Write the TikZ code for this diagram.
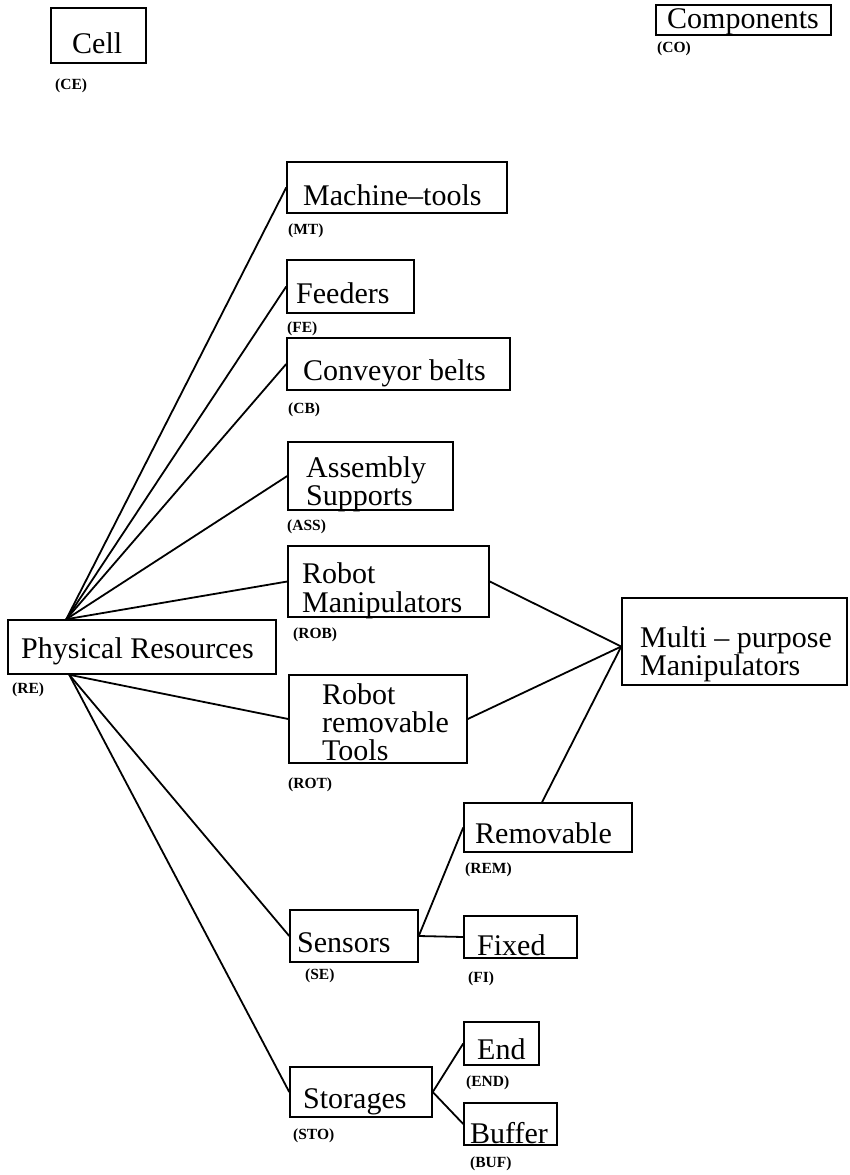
\documentclass[tikz,border=0pt]{standalone}
\usepackage{fontspec}
\setmainfont{Liberation Serif}
\begin{document}
\begin{tikzpicture}[x=1pt,y=-1pt,
  box/.style={draw, line width=1.5pt, inner sep=0pt, rectangle},
  txt/.style={inner sep=0pt, anchor=base west, align=left, font=\fontsize{30}{28}\selectfont},
  tag/.style={inner sep=0pt, anchor=base west, font=\fontsize{15.5}{15}\selectfont\bfseries},
  link/.style={line width=1.8pt}]
\useasboundingbox (0,0) rectangle (849,1175);

% stand-alone classes
\node[box, minimum width=95pt, minimum height=55pt] (ce) at (98.5,35.5) {};
\node[txt] (cet) at (72,53) {Cell};
\node[tag] (cel) at (55,89) {(CE)};

\node[box, minimum width=175pt, minimum height=30pt] (co) at (743.5,20) {};
\node[txt] (cot) at (667,28) {Components};
\node[tag] (col) at (657,52) {(CO)};

% root
\node[box, minimum width=268pt, minimum height=54pt] (re) at (142,647) {};
\node[txt] (ret) at (21,658) {Physical Resources};
\node[tag] (rel) at (12,693) {(RE)};

% first level
\node[box, minimum width=220pt, minimum height=51pt] (mt) at (397,187.5) {};
\node[txt] (mtt) at (303,205) {Machine--tools};
\node[tag] (mtl) at (288,234) {(MT)};

\node[box, minimum width=127pt, minimum height=53pt] (fe) at (350.5,286.5) {};
\node[txt] (fet) at (296,303) {Feeders};
\node[tag] (fel) at (287,332) {(FE)};

\node[box, minimum width=223pt, minimum height=52pt] (cb) at (398.5,364) {};
\node[txt] (cbt) at (303,380) {Conveyor belts};
\node[tag] (cbl) at (288,413) {(CB)};

\node[box, minimum width=165pt, minimum height=68pt] (ass) at (370.5,476) {};
\node[txt] (asst) at (306,505) {Assembly\\Supports};
\node[tag] (assl) at (287,530) {(ASS)};

\node[box, minimum width=201pt, minimum height=71pt] (rob) at (388.5,581.5) {};
\node[txt, font=\fontsize{30}{29}\selectfont] (robt) at (302,612) {Robot\\Manipulators};
\node[tag] (robl) at (293,638) {(ROB)};

\node[box, minimum width=178pt, minimum height=88pt] (rot) at (378,719) {};
\node[txt, font=\fontsize{30}{28}\selectfont] (rott) at (322,760) {Robot\\removable\\Tools};
\node[tag] (rotl) at (288,788) {(ROT)};

\node[box, minimum width=128pt, minimum height=52pt] (se) at (354,936) {};
\node[txt] (set) at (297,952) {Sensors};
\node[tag] (sel) at (305,979) {(SE)};

\node[box, minimum width=142pt, minimum height=50pt] (sto) at (361,1092) {};
\node[txt] (stot) at (303,1108) {Storages};
\node[tag] (stol) at (293,1139) {(STO)};

% second level
\node[box, minimum width=225pt, minimum height=87pt] (mp) at (734.5,641.5) {};
\node[txt] (mpt) at (640,675) {Multi -- purpose\\Manipulators};

\node[box, minimum width=168pt, minimum height=49pt] (rem) at (548,827.5) {};
\node[txt] (remt) at (475,843) {Removable};
\node[tag] (reml) at (465,873) {(REM)};

\node[box, minimum width=113pt, minimum height=42pt] (fi) at (520.5,937) {};
\node[txt] (fit) at (477,955) {Fixed};
\node[tag] (fil) at (468,982) {(FI)};

\node[box, minimum width=75pt, minimum height=43pt] (en) at (501.5,1043.5) {};
\node[txt] (ent) at (477,1059) {End};
\node[tag] (enl) at (466,1086) {(END)};

\node[box, minimum width=93pt, minimum height=42pt] (buf) at (510.5,1124) {};
\node[txt] (buft) at (470,1143) {Buffer};
\node[tag] (bufl) at (470,1167) {(BUF)};

% connectors fanning out of the root
\coordinate (retop) at ([xshift=59pt]re.north west);
\coordinate (rebot) at ([xshift=62pt]re.south west);
\draw[link] (retop) -- (mt.west);
\draw[link] (retop) -- (fe.west);
\draw[link] (retop) -- (cb.west);
\draw[link] (retop) -- (ass.west);
\draw[link] (retop) -- (rob.west);
\draw[link] (rebot) -- (rot.west);
\draw[link] (rebot) -- (se.west);
\draw[link] (rebot) -- (sto.west);

% multi-purpose manipulators
\coordinate (mpin) at ([yshift=-5pt]mp.west);
\draw[link] (rob.east) -- (mpin);
\draw[link] (rot.east) -- (mpin);
\draw[link] ([xshift=-6pt]rem.north) -- (mpin);

% sensors and storages
\draw[link] (se.east) -- (rem.west);
\draw[link] (se.east) -- (fi.west);
\draw[link] (sto.east) -- (en.west);
\draw[link] (sto.east) -- (buf.west);
\end{tikzpicture}
\end{document}
